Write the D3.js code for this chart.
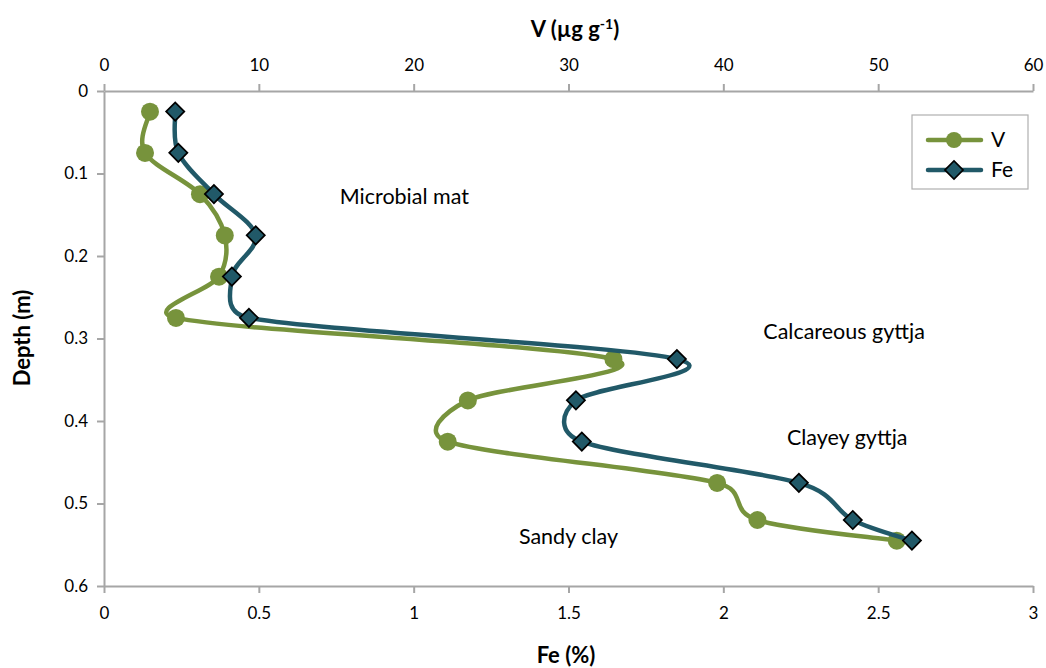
<!DOCTYPE html>
<html><head><meta charset="utf-8">
<script src="https://cdn.jsdelivr.net/npm/d3@7"></script>
<style>body{margin:0;background:#fff}svg{display:block}text{font-family:Lato,"Open Sans",sans-serif;fill:#000}</style>
</head><body><svg id="c" width="1046" height="668"></svg>
<script>
const depths = [0.025,0.075,0.125,0.175,0.225,0.275,0.325,0.375,0.425,0.475,0.52,0.545];
const feValues = [0.23,0.24,0.355,0.49,0.413,0.468,1.85,1.524,1.543,2.244,2.418,2.609];
const vValues = [2.97,2.65,6.2,7.8,7.43,4.65,32.9,23.5,22.2,39.6,42.2,51.2];
const feTicks = [0,0.5,1,1.5,2,2.5,3];
const vTicks = [0,10,20,30,40,50,60];
const depthTicks = [0,0.1,0.2,0.3,0.4,0.5,0.6];
const zoneLabels = ["Microbial mat","Calcareous gyttja","Clayey gyttja","Sandy clay"];
const zoneFe = [0.97,2.39,2.4,1.5];
const zoneDepth = [0.129,0.292,0.421,0.541];

const svg = d3.select("#c");
const L=104,R=1033,T=91,B=586;
const xFe = d3.scaleLinear().domain([0,3]).range([L,R]);
const xV = d3.scaleLinear().domain([0,60]).range([L,R]);
const y = d3.scaleLinear().domain([0,0.6]).range([T,B]);
const axisCol="#a6a6a6";
const green="#77933c", teal="#215968";

function style(g){g.select(".domain").attr("stroke",axisCol).attr("stroke-width",2);
  g.selectAll(".tick line").attr("stroke",axisCol).attr("stroke-width",2);
  g.selectAll(".tick text").attr("font-size",17).attr("fill","#000");}

svg.append("g").attr("transform",`translate(0,${B})`)
  .call(d3.axisBottom(xFe).tickValues(feTicks).tickSize(7).tickSizeOuter(0).tickPadding(14).tickFormat(d3.format("~g"))).call(style);
svg.append("g").attr("transform",`translate(0,${T})`)
  .call(d3.axisTop(xV).tickValues(vTicks).tickSize(7).tickSizeOuter(0).tickPadding(13).tickFormat(d3.format("~g"))).call(style);
svg.append("g").attr("transform",`translate(${L},0)`)
  .call(d3.axisLeft(y).tickValues(depthTicks).tickSize(7).tickSizeOuter(0).tickPadding(9).tickFormat(d3.format("~g"))).call(style);

// axis titles
const vt = svg.append("text").attr("x",575).attr("y",37).attr("text-anchor","middle").attr("font-size",22).attr("font-weight","bold");
vt.append("tspan").text("V (µg g");
vt.append("tspan").text("-1").attr("font-size",14).attr("dy",-8);
vt.append("tspan").text(")").attr("dy",8);
svg.append("text").attr("x",566).attr("y",663).attr("text-anchor","middle").attr("font-size",22).attr("font-weight","bold").text("Fe (%)");
svg.append("text").attr("transform","translate(30,338) rotate(-90)").attr("text-anchor","middle").attr("font-size",22).attr("font-weight","bold").text("Depth (m)");

// zone labels
zoneLabels.forEach((t,i)=>svg.append("text").attr("x",xFe(zoneFe[i])).attr("y",y(zoneDepth[i])+7).attr("text-anchor","middle").attr("font-size",21.5).text(t));

// Excel-like smoothed line: Bezier with 1/6 tangents, arms limited relative to segment length
function smoothPath(pts){
  const p=d3.path(); const n=pts.length; const k=0.6;
  const tan=i=>{const a=pts[Math.max(0,i-1)], b=pts[Math.min(n-1,i+1)]; return [(b.x-a.x)/6,(b.y-a.y)/6];};
  const lim=(t,d)=>{const l=Math.hypot(t[0],t[1]); const m=d*k; return l>m&&l>0?[t[0]*m/l,t[1]*m/l]:t;};
  p.moveTo(pts[0].x,pts[0].y);
  for(let i=0;i<n-1;i++){
    const a=pts[i], b=pts[i+1]; const d=Math.hypot(b.x-a.x,b.y-a.y);
    const t1=lim(tan(i),d), t2=lim(tan(i+1),d);
    p.bezierCurveTo(a.x+t1[0],a.y+t1[1],b.x-t2[0],b.y-t2[1],b.x,b.y);
  }
  return p.toString();
}
const vData = depths.map((d,i)=>({x:xV(vValues[i]),y:y(d)}));
const feData = depths.map((d,i)=>({x:xFe(feValues[i]),y:y(d)}));

svg.append("path").attr("d",smoothPath(vData)).attr("fill","none").attr("stroke",green).attr("stroke-width",4.5).attr("stroke-linecap","round");
svg.selectAll(".vc").data(vData).enter().append("circle").attr("cx",d=>d.x).attr("cy",d=>d.y).attr("r",9).attr("fill",green);
svg.append("path").attr("d",smoothPath(feData)).attr("fill","none").attr("stroke",teal).attr("stroke-width",4.5).attr("stroke-linecap","round");
const dia = d3.symbol().type(d3.symbolSquare).size(165);
svg.selectAll(".fd").data(feData).enter().append("path").attr("d",dia)
  .attr("transform",d=>`translate(${d.x},${d.y}) rotate(45)`).attr("fill",teal).attr("stroke","#000").attr("stroke-width",1.7);

// legend
const lg = svg.append("g");
lg.append("rect").attr("x",912).attr("y",115).attr("width",116).attr("height",74).attr("fill","#fff").attr("stroke","#b0b0b0").attr("stroke-width",1.2);
const items=[{n:"V",c:green,m:"c"},{n:"Fe",c:teal,m:"d"}];
items.forEach((it,i)=>{const yy=140+i*30;
  lg.append("line").attr("x1",928).attr("x2",981).attr("y1",yy).attr("y2",yy).attr("stroke",it.c).attr("stroke-width",4.5).attr("stroke-linecap","round");
  if(it.m==="c") lg.append("circle").attr("cx",954).attr("cy",yy).attr("r",8).attr("fill",it.c);
  else lg.append("path").attr("d",dia).attr("transform",`translate(954,${yy}) rotate(45)`).attr("fill",it.c).attr("stroke","#000").attr("stroke-width",1.7);
  lg.append("text").attr("x",991).attr("y",yy+7).attr("font-size",21).text(it.n);
});
</script></body></html>
